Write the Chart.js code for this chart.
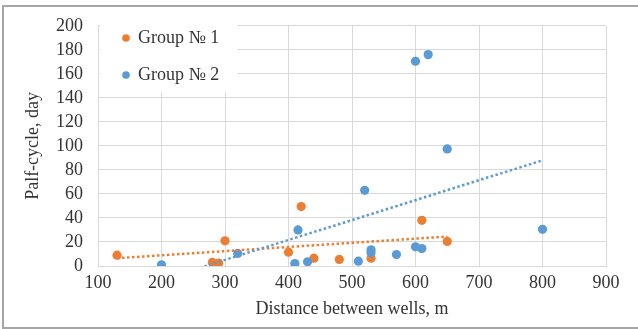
<!DOCTYPE html>
<html>
<head>
<meta charset="utf-8">
<script src="https://cdn.jsdelivr.net/npm/chart.js@4"></script>
<style>
  html, body { margin: 0; padding: 0; background: #fff; }
  #wrap { position: relative; width: 638px; height: 329px; }
  #frame {
    position: absolute; left: 2px; top: 5px; width: 636px; height: 320px;
    border-top: 2px solid #a6a6a6; border-left: 2px solid #a6a6a6; border-bottom: 2px solid #a6a6a6;
    box-sizing: content-box;
  }
  #chart { position: absolute; left: 0; top: 0; }
</style>
</head>
<body>
<div id="wrap">
  <div id="frame"></div>
  <canvas id="chart" width="638" height="329"></canvas>
</div>
<script>
// Group 1 (orange) points: distance (m), half-cycle (days)
const group1X = [130, 280, 290, 300, 400, 420, 440, 480, 530, 610, 650];
const group1Y = [9, 3, 2.5, 21, 11.5, 49.5, 6.5, 5.5, 6.5, 38, 20.5];

// Group 2 (blue) points
const group2X = [200, 320, 410, 415, 430, 510, 520, 530, 530, 570, 600, 610, 800, 600, 620, 650];
const group2Y = [1, 10.5, 2, 30, 3.5, 4, 63, 11, 13.5, 9.5, 16, 14.5, 30.5, 170.5, 176, 97.5];

// linear trend lines, end points
const trend1X = [130, 650];
const trend1Y = [6.5, 24.5];
const trend2X = [200, 800];
const trend2Y = [-11.5, 88];

const xTicks = [100, 200, 300, 400, 500, 600, 700, 800, 900];
const yTicks = [0, 20, 40, 60, 80, 100, 120, 140, 160, 180, 200];

const ORANGE = '#ED7D31';
const BLUE = '#5B9BD5';
const TEXT = '#333333';
const GRID = '#d9d9d9';
const FONT = '"Liberation Serif", "Times New Roman", serif';

const toPts = (xs, ys) => xs.map((x, i) => ({ x: x, y: ys[i] }));

// legend drawn inside the plot, on a white box
const innerLegend = {
    id: 'innerLegend',
    afterDraw(chart) {
        const ctx = chart.ctx;
        const items = chart.data.datasets.filter(d => !d.isTrend);
        ctx.save();
        ctx.fillStyle = '#fff';
        ctx.fillRect(100, 19, 137, 73);
        ctx.font = '18px ' + FONT;
        ctx.textBaseline = 'middle';
        items.forEach((d, i) => {
            const y = 38 + i * 37;
            ctx.fillStyle = d.backgroundColor;
            ctx.beginPath();
            ctx.arc(126, y, 3.8, 0, Math.PI * 2);
            ctx.fill();
            ctx.fillStyle = TEXT;
            ctx.fillText(d.label, 138, y);
        });
        ctx.restore();
    }
};

new Chart(document.getElementById('chart'), {
    type: 'scatter',
    data: {
        datasets: [
            {
                label: 'Group № 1',
                data: toPts(group1X, group1Y),
                backgroundColor: ORANGE,
                borderColor: ORANGE,
                pointRadius: 4.6,
                borderWidth: 0,
                order: 3
            },
            {
                label: 'Group № 2',
                data: toPts(group2X, group2Y),
                backgroundColor: BLUE,
                borderColor: BLUE,
                pointRadius: 4.6,
                borderWidth: 0,
                order: 2
            },
            {
                label: 'trend 1',
                isTrend: true,
                type: 'line',
                data: toPts(trend1X, trend1Y),
                borderColor: ORANGE,
                borderWidth: 2.5,
                borderDash: [2.5, 2.5],
                pointRadius: 0,
                fill: false,
                clip: 0,
                order: 1
            },
            {
                label: 'trend 2',
                isTrend: true,
                type: 'line',
                data: toPts(trend2X, trend2Y),
                borderColor: BLUE,
                borderWidth: 2.5,
                borderDash: [2.5, 2.5],
                pointRadius: 0,
                fill: false,
                clip: 0,
                order: 0
            }
        ]
    },
    options: {
        responsive: false,
        animation: false,
        layout: { padding: { top: 17, right: 32, left: 0, bottom: 0 } },
        plugins: {
            legend: { display: false },
            tooltip: { enabled: false }
        },
        scales: {
            x: {
                type: 'linear',
                min: xTicks[0],
                max: xTicks[xTicks.length - 1],
                afterBuildTicks: s => { s.ticks = xTicks.map(v => ({ value: v })); },
                afterFit: s => { s.height = 63; },
                grid: { color: GRID, drawTicks: false },
                border: { color: GRID },
                ticks: { color: TEXT, font: { family: FONT, size: 18 }, padding: 6, maxRotation: 0, autoSkip: false },
                title: {
                    display: true,
                    text: 'Distance between wells, m',
                    color: TEXT,
                    font: { family: FONT, size: 18 },
                    padding: { top: 0, bottom: 9 }
                }
            },
            y: {
                min: yTicks[0],
                max: yTicks[yTicks.length - 1],
                afterBuildTicks: s => { s.ticks = yTicks.map(v => ({ value: v })); },
                afterFit: s => { s.width = 98; },
                grid: { color: GRID, drawTicks: false },
                border: { color: GRID },
                ticks: { color: TEXT, font: { family: FONT, size: 18 }, padding: 15, autoSkip: false },
                title: {
                    display: true,
                    text: 'Palf-cycle, day',
                    color: TEXT,
                    font: { family: FONT, size: 18 },
                    padding: { top: 22, bottom: 0 }
                }
            }
        }
    },
    plugins: [innerLegend]
});
</script>
</body>
</html>
